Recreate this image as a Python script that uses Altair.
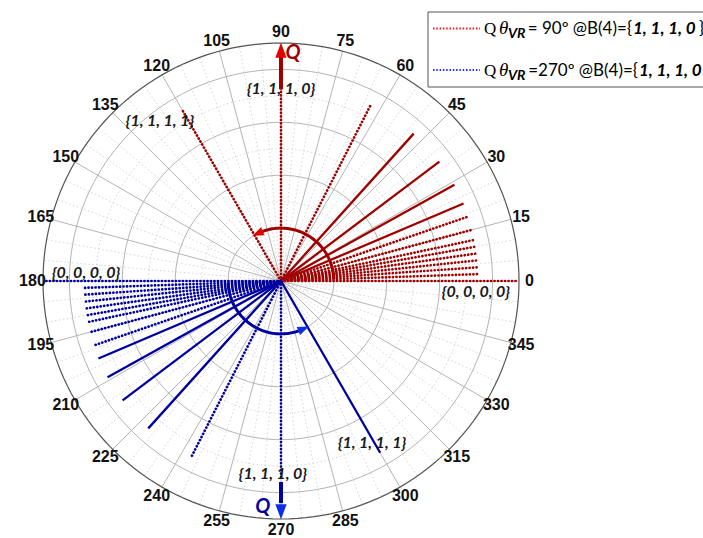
import altair as alt
import numpy as np
import pandas as pd

# ---------------------------------------------------------------
# Data: phase rays (angle in degrees, radial length)
# ---------------------------------------------------------------
red_angles = [0, 2, 4, 6, 8, 10, 12, 15, 19, 23, 29, 37, 48, 63, 90, 120]
red_radii = [0.9, 0.75, 0.75, 0.75, 0.75, 0.75, 0.75, 0.75, 0.75, 0.75,
             0.75, 0.75, 0.75, 0.75, 0.75, 0.75]
red_dense = [23, 29, 37, 48]

blue_angles = [180, 182, 184, 186, 188, 190, 192, 195, 199, 203, 209, 217,
               228, 243, 270, 300]
blue_radii = [0.9, 0.75, 0.75, 0.75, 0.75, 0.75, 0.75, 0.75, 0.75, 0.75,
              0.75, 0.75, 0.75, 0.75, 0.75, 0.75]
blue_dense = [203, 209, 217, 228, 300]

# state annotations: text, angle, radius
state_text = ["{1, 1, 1, 0}", "{1, 1, 1, 1}", "{0, 0, 0, 0}",
              "{0, 0, 0, 0}", "{1, 1, 1, 1}", "{1, 1, 1, 0}"]
state_angle = [90, 127.1, 177.6, 356.8, 299.3, 267.6]
state_radius = [0.726, 0.759, 0.738, 0.738, 0.703, 0.73]

# polar axis
R_MAX = 0.9
tick_angles = list(range(0, 360, 15))
ring_major = [0.2, 0.4, 0.6, 0.8]
ring_minor = [0.1, 0.3, 0.5, 0.7]

RED_RAY = "#a00000"
BLUE_RAY = "#0000a0"
RED_HI = "#e50000"
BLUE_HI = "#0c2ee6"
GRID = "#b4b4b4"
GRID_MINOR = "#d6d6d6"

xs = alt.Scale(domain=[-R_MAX, R_MAX], nice=False, zero=False)
ys = alt.Scale(domain=[-R_MAX, R_MAX], nice=False, zero=False)


def px(field):
    return alt.X(f"{field}:Q", scale=xs, axis=None)


def py(field):
    return alt.Y(f"{field}:Q", scale=ys, axis=None)


def polar_xy(chart, a="a", r="r", xname="x", yname="y"):
    return chart.transform_calculate(
        **{xname: f"datum.{r}*cos(datum.{a}*PI/180)",
           yname: f"datum.{r}*sin(datum.{a}*PI/180)"}
    )


# ---------------------------------------------------------------
# Grid
# ---------------------------------------------------------------
circ_deg = np.arange(0, 361, 2)
rings = pd.DataFrame(
    [(r, d, kind) for kind, rr in (("major", ring_major), ("minor", ring_minor),
                                   ("outer", [R_MAX])) for r in rr for d in circ_deg],
    columns=["r", "a", "kind"],
)


def ring_layer(kind, color, width, dash=None):
    kw = dict(color=color, strokeWidth=width)
    if dash:
        kw["strokeDash"] = dash
    return polar_xy(
        alt.Chart(rings).transform_filter(f"datum.kind == '{kind}'")
    ).mark_line(**kw).encode(
        x=px("x"), y=py("y"), detail="r:N", order="a:Q"
    )


spokes = pd.DataFrame({"a": [d for d in range(0, 360, 5)]})
spokes["major"] = spokes["a"] % 15 == 0
spokes["r"] = R_MAX
spokes["z"] = 0.0


def spoke_layer(major, color, width, dash=None):
    kw = dict(color=color, strokeWidth=width)
    if dash:
        kw["strokeDash"] = dash
    return polar_xy(
        alt.Chart(spokes).transform_filter(
            "datum.major" if major else "!datum.major")
    ).mark_rule(**kw).encode(
        x=px("z"), y=py("z"), x2="x:Q", y2="y:Q"
    )


labels = pd.DataFrame({"a": tick_angles, "txt": [str(t) for t in tick_angles]})
labels["r"] = 0.94
label_layer = polar_xy(alt.Chart(labels)).mark_text(
    font="Liberation Sans", fontSize=16, fontWeight="bold", color="#111111",
    align="center", baseline="middle",
).encode(x=px("x"), y=py("y"), text="txt:N")

# ---------------------------------------------------------------
# Rays
# ---------------------------------------------------------------
rays = pd.DataFrame({
    "a": red_angles + blue_angles,
    "r": red_radii + blue_radii,
    "series": ["red"] * len(red_angles) + ["blue"] * len(blue_angles),
})
rays["dense"] = rays["a"].isin(red_dense + blue_dense)
rays["z"] = 0.0
ray_color = alt.Color("series:N", legend=None,
                      scale=alt.Scale(domain=["red", "blue"],
                                      range=[RED_RAY, BLUE_RAY]))

rays_dotted = polar_xy(
    alt.Chart(rays).transform_filter("!datum.dense")
).mark_rule(strokeWidth=2.7, strokeDash=[0.1, 3.4], strokeCap="round").encode(
    x=px("z"), y=py("z"), x2="x:Q", y2="y:Q", color=ray_color
)
rays_dense = polar_xy(
    alt.Chart(rays).transform_filter("datum.dense")
).mark_rule(strokeWidth=2.3).encode(
    x=px("z"), y=py("z"), x2="x:Q", y2="y:Q", color=ray_color
)

# ---------------------------------------------------------------
# Rotation arcs with arrowheads
# ---------------------------------------------------------------
ARC_R = 0.2
arc_spans = {"red": (2, 112), "blue": (182, 291)}
arc_rows = []
for name, (a0, a1) in arc_spans.items():
    for d in np.linspace(a0, a1, 80):
        arc_rows.append((name, d, ARC_R))
arcs = pd.DataFrame(arc_rows, columns=["series", "a", "r"])
hi_color = alt.Color("series:N", legend=None,
                     scale=alt.Scale(domain=["red", "blue"], range=[RED_HI, BLUE_HI]))
arc_layer = polar_xy(alt.Chart(arcs)).mark_line(strokeWidth=3).encode(
    x=px("x"), y=py("y"), detail="series:N", order="a:Q", color=hi_color
)

HEAD = "M0,-1L0.55,0.45L-0.55,0.45Z"
heads = pd.DataFrame({
    "series": ["red", "blue"],
    "a": [114, 293],
    "r": [ARC_R, ARC_R],
})
heads["rot"] = (360 - heads["a"]) % 360
head_layer = polar_xy(alt.Chart(heads)).mark_point(
    shape=HEAD, filled=True, size=250, opacity=1
).encode(x=px("x"), y=py("y"), angle=alt.Angle("rot:Q", scale=None),
         color=hi_color, fill=hi_color)

# Q vectors along 90 deg and 270 deg
qvec = pd.DataFrame({"series": ["red", "blue"], "a": [90, 270],
                     "r0": [0.725, 0.76], "r1": [0.85, 0.84],
                     "rh": [0.862, 0.862], "rot": [0, 180]})
q_shaft = alt.Chart(qvec).transform_calculate(
    x0="datum.r0*cos(datum.a*PI/180)", y0="datum.r0*sin(datum.a*PI/180)",
    x1="datum.r1*cos(datum.a*PI/180)", y1="datum.r1*sin(datum.a*PI/180)",
).mark_rule(strokeWidth=4).encode(
    x=px("x0"), y=py("y0"), x2="x1:Q", y2="y1:Q", color=hi_color
)
q_head = polar_xy(alt.Chart(qvec), r="rh").mark_point(
    shape=HEAD, filled=True, size=420, opacity=1
).encode(x=px("x"), y=py("y"), angle=alt.Angle("rot:Q", scale=None),
         color=hi_color, fill=hi_color)

qlab = pd.DataFrame({"series": ["red", "blue"], "a": [87, 265.4],
                     "r": [0.862, 0.857], "txt": ["Q", "Q"]})
q_text = polar_xy(alt.Chart(qlab)).mark_text(
    font="Lato", fontSize=20, fontStyle="italic", fontWeight="bold",
    align="center", baseline="middle",
).encode(x=px("x"), y=py("y"), text="txt:N", color=hi_color)

# state annotations
states = pd.DataFrame({"txt": state_text, "a": state_angle, "r": state_radius})
state_layer = polar_xy(alt.Chart(states)).mark_text(
    font="Lato", fontSize=16, fontStyle="italic", fontWeight="bold",
    color="#1a1a22", align="center", baseline="middle",
).encode(x=px("x"), y=py("y"), text="txt:N")

# ---------------------------------------------------------------
# Legend box (drawn in pixel space, top-right)
# ---------------------------------------------------------------
one = pd.DataFrame({"k": [0]})


def ptext(txt, x, y, **kw):
    base = dict(align="left", baseline="alphabetic", color="#000000")
    base.update(kw)
    return alt.Chart(one).mark_text(text=txt, **base).encode(
        x=alt.value(x), y=alt.value(y))


legend_box = alt.Chart(one).mark_rect(
    fill="white", stroke="#555555", strokeWidth=1
).encode(x=alt.value(385), x2=alt.value(700), y=alt.value(-31), y2=alt.value(44))

leg_red = alt.Chart(one).mark_rule(
    color="#ff1010", strokeWidth=2, strokeDash=[1.5, 1.8]
).encode(x=alt.value(390), x2=alt.value(437), y=alt.value(-14.5))
leg_blue = alt.Chart(one).mark_rule(
    color="#2a2aff", strokeWidth=2, strokeDash=[1.5, 1.8]
).encode(x=alt.value(390), x2=alt.value(437), y=alt.value(27))

legend_parts = []
for yb, mid, x_bits, close in (
    (-9.5, "= 90º @B(4)={", 590, True),
    (32.5, "=270º @B(4)={", 596, False),
):
    legend_parts += [
        ptext("Q", 441, yb, font="Liberation Serif", fontSize=17),
        ptext("θ", 456, yb, font="Liberation Serif", fontSize=19, fontStyle="italic"),
        ptext("VR", 465, yb + 4, font="Lato", fontSize=14, fontStyle="italic",
              fontWeight="bold"),
        ptext(mid, x_bits - 1, yb, font="Lato", fontSize=17, align="right"),
        ptext("1, 1, 1, 0", x_bits, yb, font="Lato", fontSize=17,
              fontStyle="italic", fontWeight="bold"),
    ]
    if close:
        legend_parts.append(ptext("}", x_bits + 66, yb, font="Lato", fontSize=17))

chart = alt.layer(
    ring_layer("minor", GRID_MINOR, 1, [1.5, 2.5]),
    spoke_layer(False, GRID_MINOR, 1, [1.5, 2.5]),
    ring_layer("major", GRID, 1),
    spoke_layer(True, GRID, 1),
    ring_layer("outer", "#555555", 1.2),
    label_layer,
    rays_dotted,
    rays_dense,
    arc_layer,
    head_layer,
    q_shaft,
    q_head,
    q_text,
    state_layer,
    legend_box,
    leg_red,
    leg_blue,
    *legend_parts,
).properties(
    width=476, height=476,
    padding={"left": 43, "top": 43, "right": 184, "bottom": 19},
    autosize=alt.AutoSizeParams(type="none"),
    background="white",
).configure_view(stroke=None)

chart.save("out.html", embed_options={"renderer": "svg", "actions": False})
